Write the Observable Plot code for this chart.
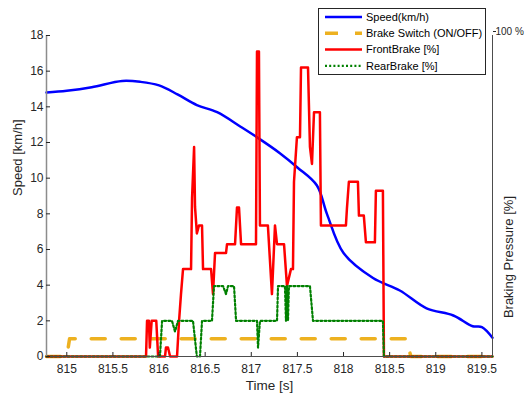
<!DOCTYPE html>
<html><head><meta charset="utf-8">
<script src="https://cdn.jsdelivr.net/npm/d3@7"></script>
<script src="https://cdn.jsdelivr.net/npm/@observablehq/plot@0.6"></script>
<style>
body{margin:0;background:#fff;}
#wrap{position:relative;width:525px;height:401px;font-family:"Liberation Sans",Arial,sans-serif;}
#legend{position:absolute;left:318px;top:8px;}
</style></head>
<body><div id="wrap"></div>
<script>
// ---- data (time in s, values on the left-axis scale) ----
const speedTime = [814.78, 815.0, 815.27, 815.6, 815.8, 816.0, 816.2, 816.41, 816.63, 816.88, 817.06, 817.31, 817.5, 817.71, 817.82, 818.0, 818.32, 818.61, 818.9, 819.19, 819.4, 819.5, 819.615];
const speedKmh  = [14.8, 14.9, 15.1, 15.45, 15.4, 15.2, 14.7, 14.1, 13.7, 12.9, 12.3, 11.4, 10.6, 9.6, 8.0, 5.8, 4.4, 3.7, 2.7, 2.3, 1.7, 1.65, 1.05];

const switchTime  = [814.78, 815.0, 815.03, 818.68, 818.73, 819.615];
const switchState = [0, 0, 1, 1, 0, 0];

const frontTime = [814.78, 815.859, 815.87, 815.89, 815.90, 815.92, 815.97, 815.99, 816.065, 816.075, 816.097, 816.12, 816.195, 816.217, 816.238, 816.26, 816.347, 816.358, 816.38, 816.39, 816.41, 816.433, 816.466, 816.477, 816.564, 816.585, 816.607, 816.726, 816.737, 816.824, 816.845, 816.867, 816.889, 817.051, 817.062, 817.083, 817.094, 817.18, 817.224, 817.257, 817.279, 817.355, 817.387, 817.43, 817.452, 817.463, 817.495, 817.528, 817.539, 817.615, 817.636, 817.658, 817.68, 817.744, 817.755, 818.026, 818.037, 818.058, 818.156, 818.167, 818.22, 818.243, 818.34, 818.351, 818.427, 818.438, 819.615];
const frontBrake = [0, 0, 2.0, 2.0, 0.5, 2.0, 2.0, 0, 0, 0.5, 0.5, 0, 0, 2.0, 3.5, 4.9, 4.9, 8.9, 11.75, 8.4, 6.9, 7.35, 7.35, 4.9, 4.9, 3.5, 5.8, 5.8, 6.3, 6.3, 8.35, 8.35, 6.3, 6.3, 17.1, 17.1, 7.35, 7.35, 3.5, 7.35, 6.3, 6.3, 3.95, 4.9, 4.9, 9.8, 12.3, 12.3, 16.2, 16.2, 11.75, 10.8, 13.7, 13.7, 7.35, 7.35, 8.3, 9.8, 9.8, 7.9, 7.9, 6.4, 6.4, 9.3, 9.3, 0, 0];

const rearTime = [814.78, 816.01, 816.033, 816.14, 816.173, 816.206, 816.368, 816.41, 816.444, 816.466, 816.574, 816.596, 816.694, 816.726, 816.748, 816.813, 816.835, 817.062, 817.073, 817.094, 817.279, 817.29, 817.365, 817.376, 817.387, 817.398, 817.408, 817.636, 817.669, 818.427, 818.438, 819.615];
const rearBrake = [0, 0, 2.0, 2.0, 1.4, 2.0, 2.0, 0, 0, 2.0, 2.0, 3.95, 3.95, 3.5, 3.95, 3.95, 2.0, 2.0, 0.5, 2.0, 2.0, 3.95, 3.95, 2.0, 3.95, 2.0, 3.95, 3.95, 2.0, 2.0, 0, 0];

const xDomain = [814.78, 819.615];
const yDomain = [0, 18];
const xTicks = [815, 815.5, 816, 816.5, 817, 817.5, 818, 818.5, 819, 819.5];
const yTicks = [0, 2, 4, 6, 8, 10, 12, 14, 16, 18];
const rightTickLabel = "100 %";

const legendLabels = ["Speed(km/h)", "Brake Switch (ON/OFF)", "FrontBrake [%]", "RearBrake [%]"];
const legendColors = ["#0000ff", "#edb120", "#ff0000", "#008000"];

// ---- tables ----
const zip = (xs, ys) => xs.map((t, i) => ({t, v: ys[i]}));
const speed = zip(speedTime, speedKmh);
const sw = zip(switchTime, switchState);
const front = zip(frontTime, frontBrake);
const rear = zip(rearTime, rearBrake);

const dash = "14,16", dot = "2,2.2";

const chart = Plot.plot({
  width: 525, height: 401,
  marginLeft: 46, marginRight: 33, marginTop: 35, marginBottom: 45,
  x: {domain: xDomain},
  y: {domain: yDomain},
  style: {fontFamily: "'Liberation Sans', Arial, sans-serif", fontSize: "12px", color: "#262626", background: "white", overflow: "visible"},
  marks: [
    Plot.line(speed, {x: "t", y: "v", stroke: legendColors[0], strokeWidth: 2.5, curve: "catmull-rom"}),
    Plot.line(sw, {x: "t", y: "v", stroke: legendColors[1], strokeWidth: 3.5, strokeDasharray: dash}),
    Plot.line(front, {x: "t", y: "v", stroke: legendColors[2], strokeWidth: 2.5}),
    Plot.line(rear, {x: "t", y: "v", stroke: legendColors[3], strokeWidth: 2.2, strokeDasharray: dot}),
    Plot.ruleX([xDomain[0]], {stroke: "#8c8c8c", strokeWidth: 1.5}),
    Plot.ruleX([xDomain[1]], {stroke: "#4d4d4d", strokeWidth: 1}),
    Plot.ruleY([yDomain[0]], {stroke: "#4d4d4d", strokeWidth: 1}),
    Plot.axisX(xTicks, {tickSize: 0, tickPadding: 8, tickFormat: d => String(d), label: null, fontSize: 12}),
    Plot.axisX(xTicks, {tickSize: -4, tickFormat: () => "", label: null}),
    Plot.axisY(yTicks, {tickSize: 0, tickPadding: 3, label: null, fontSize: 12}),
    Plot.axisY(yTicks, {tickSize: -4, tickFormat: () => "", label: null}),
    Plot.axisY([yDomain[1]], {anchor: "right", tickSize: 3, tickPadding: 0, tickFormat: () => rightTickLabel, label: null, fontSize: 10, dy: -4}),
    Plot.text(["Speed [km/h]"], {frameAnchor: "left", rotate: -90, dx: -29, fontSize: 13, fill: "#262626"}),
    Plot.text(["Time [s]"], {frameAnchor: "bottom", dy: 33, fontSize: 13.5, fill: "#262626"}),
    Plot.text(["Braking Pressure [%]"], {frameAnchor: "right", rotate: -90, dx: 16, fontSize: 13, fill: "#262626"})
  ]
});

const wrap = document.getElementById("wrap");
wrap.appendChild(chart);

// ---- legend ----
const lw = 168, lh = 67;
const leg = d3.select(wrap).append("svg").attr("id", "legend").attr("width", lw).attr("height", lh)
  .style("font-family", "'Liberation Sans', Arial, sans-serif");
leg.append("rect").attr("x", 0.5).attr("y", 0.5).attr("width", lw - 1).attr("height", lh - 1)
  .attr("fill", "white").attr("stroke", "#262626").attr("stroke-width", 1);
const styles = [
  {w: 2.5, d: null}, {w: 3.5, d: "13,17"}, {w: 2.5, d: null}, {w: 2.2, d: dot}
];
legendLabels.forEach((lab, i) => {
  const cy = 9 + i * 16.3;
  leg.append("line").attr("x1", 7).attr("x2", 44).attr("y1", cy).attr("y2", cy)
    .attr("stroke", legendColors[i]).attr("stroke-width", styles[i].w)
    .attr("stroke-dasharray", styles[i].d);
  leg.append("text").attr("x", 48).attr("y", cy).attr("dy", "0.35em")
    .attr("font-size", 11).attr("fill", "#000").text(lab);
});
</script>
</body></html>
